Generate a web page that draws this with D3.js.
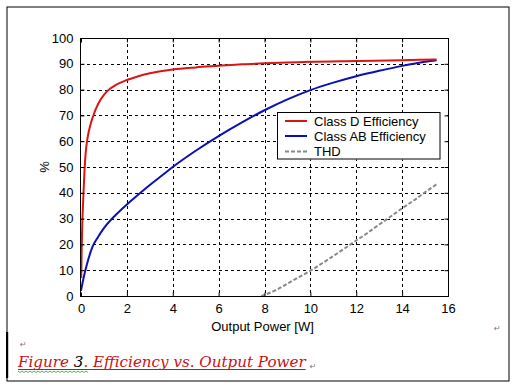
<!DOCTYPE html>
<html><head><meta charset="utf-8">
<script src="https://cdn.jsdelivr.net/npm/d3@7/dist/d3.min.js"></script>
<style>body{margin:0;background:#fff}svg{display:block}</style>
</head><body>
<svg id="c" width="514" height="390"></svg>
<script>
const classDX = [0.01,0.03,0.05,0.1,0.15,0.2,0.3,0.4,0.5,0.75,1,1.25,1.5,2,2.5,3,4,5,6,7,8,9,10,12,14,15.5];
const classDY = [7,18,26,38,48,55,62,66,69,74.5,78,80.2,81.7,83.7,85.2,86.3,87.8,88.6,89.2,89.8,90.2,90.5,90.8,91.1,91.4,91.7];
const classABX = [0,0.1,0.25,0.5,0.75,1,1.5,2,2.5,3,3.5,4,5,6,7,8,9,10,11,12,13,14,15,15.5];
const classABY = [2,6.5,12,19,23,26.3,31.3,35.5,39.3,43,46.5,50,56.3,62,67.2,72,76.2,79.8,82.7,85.2,87.3,89.2,90.8,91.4];
const thdX = [7.86,8.5,9,9.5,10,10.5,11,11.5,12,12.5,13,13.5,14,14.5,15,15.5];
const thdY = [0,2.3,4.8,7.3,9.8,12.6,15.5,18.5,21.5,24.5,27.7,30.8,34,37,40.2,43.3];
const xTicks = [0,2,4,6,8,10,12,14,16];
const yTicks = [0,10,20,30,40,50,60,70,80,90,100];
const seriesNames = ["Class D Efficiency","Class AB Efficiency","THD"];
const captionParts = ["Figure ","3",". Efficiency vs. Output Power"];

const svg = d3.select("#c");
const font = "'Liberation Sans', Arial, sans-serif";
const x = d3.scaleLinear().domain([0,16]).range([81,448]);
const y = d3.scaleLinear().domain([0,100]).range([296,38]);

// outer frame
svg.append("rect").attr("x",7).attr("y",7).attr("width",502).attr("height",374)
  .attr("fill","none").attr("stroke","#000").attr("stroke-width",1);
svg.append("rect").attr("x",6).attr("y",332).attr("width",2.2).attr("height",46).attr("fill","#000");

// grid
const g = svg.append("g");
g.selectAll(".vg").data(xTicks.slice(1,-1)).join("line")
  .attr("x1",d=>Math.round(x(d))+0.5).attr("x2",d=>Math.round(x(d))+0.5)
  .attr("y1",y(100)).attr("y2",y(0))
  .attr("stroke","#000").attr("stroke-width",1).attr("stroke-dasharray","3,3");
g.selectAll(".hg").data(yTicks.slice(1,-1)).join("line")
  .attr("y1",d=>Math.round(y(d))+0.5).attr("y2",d=>Math.round(y(d))+0.5)
  .attr("x1",x(0)).attr("x2",x(16))
  .attr("stroke","#000").attr("stroke-width",1).attr("stroke-dasharray","3,3");

// lines
const line = d3.line().x(d=>x(d[0])).y(d=>y(d[1])).curve(d3.curveMonotoneX);
const zip = (a,b)=>a.map((v,i)=>[v,b[i]]);
svg.append("path").datum(zip(thdX,thdY)).attr("d",line).attr("fill","none")
  .attr("stroke","#888").attr("stroke-width",2).attr("stroke-dasharray","4,2");
svg.append("path").datum(zip(classABX,classABY)).attr("d",line).attr("fill","none")
  .attr("stroke","#0a10b8").attr("stroke-width",2);
svg.append("path").datum(zip(classDX,classDY)).attr("d",line).attr("fill","none")
  .attr("stroke","#dd1414").attr("stroke-width",2);

// legend
svg.append("rect").attr("x",277).attr("y",112.5).attr("width",169).attr("height",47).attr("fill","#fff");
svg.append("rect").attr("x",277.5).attr("y",112.5).attr("width",162.5).attr("height",46.5)
  .attr("fill","none").attr("stroke","#000");
const legColors = ["#dd1414","#0a10b8","#888"];
const legDash = [null,null,"4,2"];
const legY = [121,136,151.5];
seriesNames.forEach((n,i)=>{
  svg.append("line").attr("x1",285).attr("x2",307).attr("y1",legY[i]).attr("y2",legY[i])
    .attr("stroke",legColors[i]).attr("stroke-width",2).attr("stroke-dasharray",legDash[i]);
  svg.append("text").attr("x",314).attr("y",legY[i]+4.5).attr("font-family",font)
    .attr("font-size",13).text(n);
});

// axes box
svg.append("rect").attr("x",x(0)-0.5).attr("y",y(100)+0.5).attr("width",x(16)-x(0)+1).attr("height",y(0)-y(100))
  .attr("fill","none").attr("stroke","#000");
// inward ticks
const axB = d3.axisBottom(x).tickValues(xTicks).tickSize(-4).tickPadding(7);
const axT = d3.axisTop(x).tickValues(xTicks).tickSize(-4).tickFormat("");
const axL = d3.axisLeft(y).tickValues(yTicks).tickSize(-4).tickPadding(7);
const axR = d3.axisRight(y).tickValues(yTicks).tickSize(-4).tickFormat("");
function style(sel){ sel.select(".domain").remove(); sel.selectAll("text").attr("font-family",font).attr("font-size",13).attr("fill","#000"); }
svg.append("g").attr("transform",`translate(0,${y(0)+0.5})`).call(axB).call(style);
svg.append("g").attr("transform",`translate(0,${y(100)+0.5})`).call(axT).call(style);
svg.append("g").attr("transform",`translate(${x(0)-0.5},0)`).call(axL).call(style);
svg.append("g").attr("transform",`translate(${x(16)+0.5},0)`).call(axR).call(style);

// axis labels
svg.append("text").attr("x",262.5).attr("y",330.5).attr("text-anchor","middle")
  .attr("font-family",font).attr("font-size",13).text("Output Power [W]");
svg.append("text").attr("transform","translate(49,167) rotate(-90)").attr("text-anchor","middle")
  .attr("font-family",font).attr("font-size",13).text("%");

// caption: measure then fit to ~288px
const capFont = "'DejaVu Serif', serif";
const probe = svg.append("text").attr("font-family",capFont).attr("font-style","italic")
  .attr("font-size",16).text(captionParts.join(""));
const fullLen = probe.node().getComputedTextLength();
probe.remove();
const capSize = 16*288/fullLen;
let cx = 18;
captionParts.forEach((p,i)=>{
  const t = svg.append("text").attr("x",cx).attr("y",367).attr("font-family",capFont)
    .attr("font-style","italic").attr("font-size",capSize)
    .attr("fill", i===1 ? "#000" : "#cc1111").style("white-space","pre").text(p);
  cx += t.node().getComputedTextLength();
});
svg.append("line").attr("x1",18).attr("x2",cx).attr("y1",369.5).attr("y2",369.5).attr("stroke","#cc1111");
// spell-check squiggle
const sq = d3.range(18,90,2).map((v,i)=>[v, 371.5 + (i%2?1:-0.5)]);
svg.append("path").attr("d",d3.line()(sq)).attr("fill","none").attr("stroke","#2a9a2a").attr("stroke-width",0.8);

// paragraph marks
[[20,347],[cx+4,369],[494,331]].forEach(p=>{
  svg.append("text").attr("x",p[0]).attr("y",p[1]).attr("font-family","'DejaVu Sans', sans-serif")
    .attr("font-size",8).attr("fill","#777").text("\u21B5");
});
</script>
</body></html>
